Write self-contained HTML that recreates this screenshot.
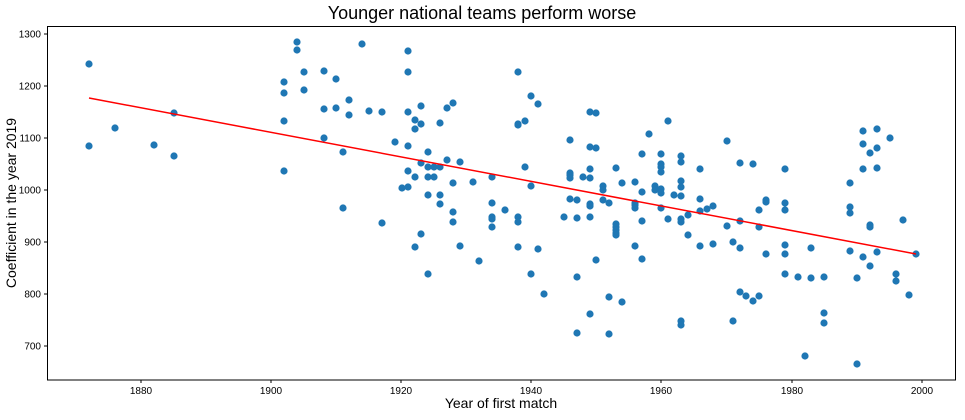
<!DOCTYPE html>
<html><head><meta charset="utf-8"><style>
html,body{margin:0;padding:0;background:#fff;}
svg text{font-family:"Liberation Sans","DejaVu Sans",sans-serif;fill:#000;}
</style></head><body>
<svg width="965" height="415" xmlns="http://www.w3.org/2000/svg">
<rect width="965" height="415" fill="#fff"/>
<text x="482" y="19" font-size="18" text-anchor="middle">Younger national teams perform worse</text>
<g font-size="10" text-anchor="end">
<line x1="44" x2="47" y1="34" y2="34" stroke="#000"/><text x="41" y="37.5">1300</text>
<line x1="44" x2="47" y1="86" y2="86" stroke="#000"/><text x="41" y="89.5">1200</text>
<line x1="44" x2="47" y1="138" y2="138" stroke="#000"/><text x="41" y="141.5">1100</text>
<line x1="44" x2="47" y1="190" y2="190" stroke="#000"/><text x="41" y="193.5">1000</text>
<line x1="44" x2="47" y1="242" y2="242" stroke="#000"/><text x="41" y="245.5">900</text>
<line x1="44" x2="47" y1="294" y2="294" stroke="#000"/><text x="41" y="297.5">800</text>
<line x1="44" x2="47" y1="346" y2="346" stroke="#000"/><text x="41" y="349.5">700</text>
</g>
<g font-size="10" text-anchor="middle">
<line x1="141" x2="141" y1="380" y2="383" stroke="#000"/><text x="141" y="394">1880</text>
<line x1="271" x2="271" y1="380" y2="383" stroke="#000"/><text x="271" y="394">1900</text>
<line x1="401" x2="401" y1="380" y2="383" stroke="#000"/><text x="401" y="394">1920</text>
<line x1="531" x2="531" y1="380" y2="383" stroke="#000"/><text x="531" y="394">1940</text>
<line x1="661" x2="661" y1="380" y2="383" stroke="#000"/><text x="661" y="394">1960</text>
<line x1="792" x2="792" y1="380" y2="383" stroke="#000"/><text x="792" y="394">1980</text>
<line x1="922" x2="922" y1="380" y2="383" stroke="#000"/><text x="922" y="394">2000</text>
</g>
<text x="501" y="408" font-size="14" text-anchor="middle">Year of first match</text>
<text transform="translate(16,203) rotate(-90)" font-size="14" text-anchor="middle">Coefficient in the year 2019</text>
<g fill="#1f77b4">
<circle cx="89" cy="64" r="3.6"/><circle cx="89" cy="146" r="3.6"/><circle cx="115" cy="128" r="3.6"/><circle cx="154" cy="145" r="3.6"/><circle cx="174" cy="113" r="3.6"/><circle cx="174" cy="156" r="3.6"/>
<circle cx="284" cy="82" r="3.6"/><circle cx="284" cy="93" r="3.6"/><circle cx="284" cy="121" r="3.6"/><circle cx="284" cy="171" r="3.6"/><circle cx="297" cy="42" r="3.6"/><circle cx="297" cy="50" r="3.6"/><circle cx="304" cy="72" r="3.6"/><circle cx="304" cy="90" r="3.6"/><circle cx="324" cy="71" r="3.6"/><circle cx="324" cy="109" r="3.6"/><circle cx="324" cy="138" r="3.6"/><circle cx="336" cy="79" r="3.6"/><circle cx="336" cy="108" r="3.6"/><circle cx="343" cy="152" r="3.6"/><circle cx="343" cy="208" r="3.6"/><circle cx="349" cy="100" r="3.6"/><circle cx="349" cy="115" r="3.6"/><circle cx="362" cy="44" r="3.6"/><circle cx="369" cy="111" r="3.6"/>
<circle cx="408" cy="51" r="3.6"/><circle cx="408" cy="72" r="3.6"/><circle cx="382" cy="112" r="3.6"/><circle cx="408" cy="112" r="3.6"/><circle cx="421" cy="106" r="3.6"/><circle cx="415" cy="120" r="3.6"/><circle cx="415" cy="129" r="3.6"/><circle cx="421" cy="124" r="3.6"/><circle cx="440" cy="123" r="3.6"/><circle cx="447" cy="108" r="3.6"/><circle cx="453" cy="103" r="3.6"/><circle cx="395" cy="142" r="3.6"/><circle cx="408" cy="146" r="3.6"/><circle cx="428" cy="152" r="3.6"/><circle cx="421" cy="163" r="3.6"/><circle cx="428" cy="167" r="3.6"/><circle cx="434" cy="167" r="3.6"/><circle cx="440" cy="167" r="3.6"/><circle cx="447" cy="160" r="3.6"/><circle cx="460" cy="162" r="3.6"/><circle cx="408" cy="171" r="3.6"/><circle cx="415" cy="177" r="3.6"/><circle cx="428" cy="177" r="3.6"/><circle cx="434" cy="177" r="3.6"/><circle cx="402" cy="188" r="3.6"/><circle cx="408" cy="187" r="3.6"/><circle cx="453" cy="183" r="3.6"/><circle cx="473" cy="182" r="3.6"/><circle cx="492" cy="177" r="3.6"/><circle cx="428" cy="195" r="3.6"/><circle cx="440" cy="195" r="3.6"/><circle cx="440" cy="204" r="3.6"/><circle cx="382" cy="223" r="3.6"/><circle cx="453" cy="212" r="3.6"/><circle cx="453" cy="222" r="3.6"/><circle cx="421" cy="234" r="3.6"/><circle cx="415" cy="247" r="3.6"/><circle cx="460" cy="246" r="3.6"/><circle cx="428" cy="274" r="3.6"/><circle cx="479" cy="261" r="3.6"/><circle cx="492" cy="203" r="3.6"/><circle cx="492" cy="217" r="3.6"/><circle cx="492" cy="219" r="3.6"/><circle cx="492" cy="227" r="3.6"/><circle cx="505" cy="210" r="3.6"/><circle cx="518" cy="217" r="3.6"/><circle cx="518" cy="222" r="3.6"/><circle cx="518" cy="247" r="3.6"/><circle cx="518" cy="72" r="3.6"/><circle cx="518" cy="124" r="3.6"/><circle cx="518" cy="125" r="3.6"/><circle cx="525" cy="121" r="3.6"/><circle cx="531" cy="96" r="3.6"/><circle cx="538" cy="104" r="3.6"/><circle cx="525" cy="167" r="3.6"/><circle cx="531" cy="186" r="3.6"/><circle cx="538" cy="249" r="3.6"/><circle cx="531" cy="274" r="3.6"/><circle cx="544" cy="294" r="3.6"/>
<circle cx="570" cy="140" r="3.6"/><circle cx="570" cy="173" r="3.6"/><circle cx="570" cy="175" r="3.6"/><circle cx="570" cy="178" r="3.6"/><circle cx="583" cy="177" r="3.6"/><circle cx="590" cy="169" r="3.6"/><circle cx="590" cy="178" r="3.6"/><circle cx="590" cy="147" r="3.6"/><circle cx="596" cy="148" r="3.6"/><circle cx="590" cy="112" r="3.6"/><circle cx="596" cy="113" r="3.6"/><circle cx="570" cy="199" r="3.6"/><circle cx="577" cy="200" r="3.6"/><circle cx="564" cy="217" r="3.6"/><circle cx="577" cy="218" r="3.6"/><circle cx="590" cy="204" r="3.6"/><circle cx="590" cy="206" r="3.6"/><circle cx="590" cy="217" r="3.6"/><circle cx="603" cy="186" r="3.6"/><circle cx="603" cy="190" r="3.6"/><circle cx="603" cy="200" r="3.6"/><circle cx="609" cy="203" r="3.6"/><circle cx="616" cy="168" r="3.6"/><circle cx="622" cy="183" r="3.6"/><circle cx="616" cy="224" r="3.6"/><circle cx="616" cy="227" r="3.6"/><circle cx="616" cy="230" r="3.6"/><circle cx="616" cy="233" r="3.6"/><circle cx="616" cy="235" r="3.6"/><circle cx="596" cy="260" r="3.6"/><circle cx="577" cy="277" r="3.6"/><circle cx="590" cy="314" r="3.6"/><circle cx="577" cy="333" r="3.6"/><circle cx="609" cy="297" r="3.6"/><circle cx="609" cy="334" r="3.6"/><circle cx="622" cy="302" r="3.6"/><circle cx="635" cy="182" r="3.6"/><circle cx="635" cy="203" r="3.6"/><circle cx="635" cy="205" r="3.6"/><circle cx="635" cy="208" r="3.6"/><circle cx="635" cy="246" r="3.6"/><circle cx="642" cy="154" r="3.6"/><circle cx="642" cy="192" r="3.6"/><circle cx="642" cy="221" r="3.6"/><circle cx="642" cy="259" r="3.6"/><circle cx="649" cy="134" r="3.6"/><circle cx="655" cy="186" r="3.6"/><circle cx="655" cy="190" r="3.6"/><circle cx="661" cy="154" r="3.6"/><circle cx="661" cy="164" r="3.6"/><circle cx="661" cy="167" r="3.6"/><circle cx="661" cy="172" r="3.6"/><circle cx="661" cy="189" r="3.6"/><circle cx="661" cy="193" r="3.6"/><circle cx="661" cy="208" r="3.6"/><circle cx="668" cy="121" r="3.6"/><circle cx="668" cy="219" r="3.6"/><circle cx="674" cy="195" r="3.6"/>
<circle cx="681" cy="156" r="3.6"/><circle cx="681" cy="162" r="3.6"/><circle cx="681" cy="181" r="3.6"/><circle cx="681" cy="187" r="3.6"/><circle cx="681" cy="196" r="3.6"/><circle cx="681" cy="219" r="3.6"/><circle cx="681" cy="222" r="3.6"/><circle cx="688" cy="215" r="3.6"/><circle cx="688" cy="235" r="3.6"/><circle cx="681" cy="321" r="3.6"/><circle cx="681" cy="325" r="3.6"/><circle cx="700" cy="169" r="3.6"/><circle cx="700" cy="199" r="3.6"/><circle cx="700" cy="211" r="3.6"/><circle cx="707" cy="209" r="3.6"/><circle cx="713" cy="206" r="3.6"/><circle cx="700" cy="246" r="3.6"/><circle cx="713" cy="244" r="3.6"/><circle cx="727" cy="141" r="3.6"/><circle cx="727" cy="226" r="3.6"/><circle cx="733" cy="242" r="3.6"/><circle cx="733" cy="321" r="3.6"/><circle cx="740" cy="163" r="3.6"/><circle cx="740" cy="221" r="3.6"/><circle cx="740" cy="248" r="3.6"/><circle cx="740" cy="292" r="3.6"/><circle cx="746" cy="296" r="3.6"/><circle cx="753" cy="164" r="3.6"/><circle cx="753" cy="301" r="3.6"/><circle cx="759" cy="210" r="3.6"/><circle cx="759" cy="227" r="3.6"/><circle cx="759" cy="296" r="3.6"/><circle cx="766" cy="200" r="3.6"/><circle cx="766" cy="202" r="3.6"/><circle cx="766" cy="254" r="3.6"/><circle cx="785" cy="169" r="3.6"/><circle cx="785" cy="203" r="3.6"/><circle cx="785" cy="210" r="3.6"/><circle cx="785" cy="245" r="3.6"/><circle cx="785" cy="254" r="3.6"/><circle cx="785" cy="274" r="3.6"/><circle cx="798" cy="277" r="3.6"/><circle cx="805" cy="356" r="3.6"/><circle cx="811" cy="248" r="3.6"/><circle cx="811" cy="278" r="3.6"/><circle cx="824" cy="277" r="3.6"/><circle cx="824" cy="313" r="3.6"/><circle cx="824" cy="323" r="3.6"/><circle cx="850" cy="183" r="3.6"/><circle cx="850" cy="207" r="3.6"/><circle cx="850" cy="213" r="3.6"/><circle cx="850" cy="251" r="3.6"/><circle cx="857" cy="278" r="3.6"/><circle cx="857" cy="364" r="3.6"/><circle cx="863" cy="131" r="3.6"/><circle cx="863" cy="144" r="3.6"/><circle cx="863" cy="169" r="3.6"/><circle cx="863" cy="257" r="3.6"/><circle cx="870" cy="153" r="3.6"/><circle cx="870" cy="225" r="3.6"/><circle cx="870" cy="227" r="3.6"/><circle cx="870" cy="266" r="3.6"/><circle cx="877" cy="129" r="3.6"/><circle cx="877" cy="148" r="3.6"/><circle cx="877" cy="168" r="3.6"/><circle cx="877" cy="252" r="3.6"/><circle cx="890" cy="138" r="3.6"/><circle cx="896" cy="274" r="3.6"/><circle cx="896" cy="281" r="3.6"/><circle cx="903" cy="220" r="3.6"/><circle cx="909" cy="295" r="3.6"/><circle cx="916" cy="254" r="3.6"/>
</g>
<line x1="89" y1="98" x2="916" y2="254" stroke="#ff0000" stroke-width="1.5"/>
<rect x="47.5" y="26.5" width="908" height="353.5" fill="none" stroke="#000" stroke-width="1"/>
</svg>
</body></html>
